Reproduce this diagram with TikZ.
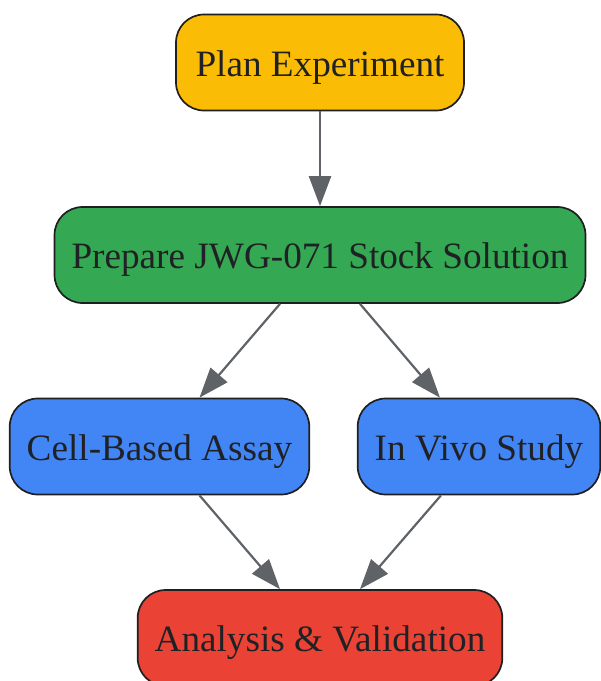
\documentclass[tikz,border=0pt]{standalone}
\usepackage{fontspec}
\setmainfont{Liberation Serif}
\usepackage{xcolor}
\usepackage{tikz}
\usetikzlibrary{arrows.meta,positioning}
\definecolor{planyellow}{HTML}{FBBC05}
\definecolor{prepgreen}{HTML}{34A853}
\definecolor{studyblue}{HTML}{4285F4}
\definecolor{evalred}{HTML}{EA4335}
\definecolor{edgegray}{HTML}{5F6368}
\definecolor{textgray}{HTML}{202124}
\tikzset{
  stepbox/.style={rectangle, rounded corners=28pt, draw=black!88, line width=1.7pt, text=textgray, font=\fontsize{37.2}{44}\selectfont, minimum height=96pt, inner xsep=17pt, text height=27pt, text depth=0pt},
  flow/.style={-{Triangle[length=30pt,width=22pt]}, draw=edgegray, line width=2.2pt}
}

\begin{document}
\begin{tikzpicture}[x=1pt, y={(0pt,-1pt)}]
			\clip (0,0) rectangle (601,681);
			\node (plan) [stepbox, fill=planyellow, minimum width=288pt] at (320,62.5) {Plan Experiment};
			\node (prep) [stepbox, fill=prepgreen] at (320,255) {Prepare JWG-071 Stock Solution};
			\node (cell) [stepbox, fill=studyblue] at (159.5,446.5) {Cell-Based Assay};
			\node (vivo) [stepbox, fill=studyblue] at (479,446.5) {In Vivo Study};
			\node (eval) [stepbox, fill=evalred] at (320,638) {Analysis \& Validation};
			\draw[flow] (plan) -- (prep);
			\draw[flow] ([xshift=-40pt]prep.south) -- ([xshift=40pt]cell.north);
			\draw[flow] ([xshift=40pt]prep.south) -- ([xshift=-39pt]vivo.north);
			\draw[flow] ([xshift=40pt]cell.south) -- ([xshift=-40pt]eval.north);
			\draw[flow] ([xshift=-38pt]vivo.south) -- ([xshift=40pt]eval.north);
\end{tikzpicture}
\end{document}
